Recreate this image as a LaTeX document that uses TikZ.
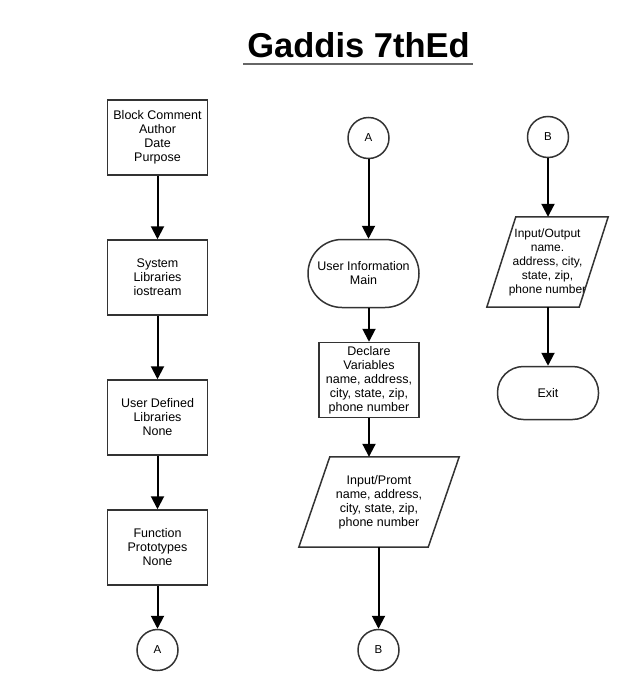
\documentclass[tikz,border=0pt]{standalone}
\usepackage{fontspec}
\setmainfont{Liberation Sans}
\usetikzlibrary{arrows.meta}
\tikzset{
  x=1pt,y=-1pt,
  shapeline/.style={draw=black!80,line width=1.5pt},
  procbox/.style={shapeline,rectangle,minimum width=100pt,minimum height=75pt,inner sep=0pt,
    align=center,font=\fontsize{12.5}{14}\selectfont},
  termbox/.style={shapeline,rectangle,inner sep=0pt,align=center,font=\fontsize{12.5}{14}\selectfont},
  iobox/.style={rectangle,inner sep=0pt,align=center,font=\fontsize{12.5}{14}\selectfont},
  conn/.style={shapeline,circle,minimum size=41pt,inner sep=0pt,font=\fontsize{11.5}{13}\selectfont},
  flow/.style={draw=black,line width=2pt,-{Triangle[length=13pt,width=13pt]}},
}
\begin{document}
\begin{tikzpicture}
\useasboundingbox (0,0) rectangle (618,690);
% title
\node[font=\fontsize{34.5}{38}\selectfont\bfseries,anchor=base] (title) at (358.5,58) {Gaddis 7thEd};
\draw[black!60,line width=2pt] (243,64) -- (473,64);

% left column
\node[procbox] (b1) at (157.5,137.5) {Block Comment\\Author\\Date\\Purpose};
\node[procbox] (b2) at (157.5,277.5) {System\\Libraries\\iostream};
\node[procbox] (b3) at (157.5,417.5) {User Defined\\Libraries\\None};
\node[procbox] (b4) at (157.5,547.5) {Function\\Prototypes\\None};
\node[conn] (a1) at (157.5,650) {A};
\draw[flow] (b1) -- (b2);
\draw[flow] (b2) -- (b3);
\draw[flow] (b3) -- (b4);
\draw[flow] (b4) -- (a1);

% middle column
\node[conn] (a2) at (368.5,138) {A};
\node[termbox,minimum width=111pt,minimum height=68pt,rounded corners=34pt] (ui) at (363.5,273.5) {User Information\\Main};
\node[procbox,minimum width=100pt,minimum height=75pt] (decl) at (369,380) {Declare\\Variables\\name, address,\\city, state, zip,\\phone number};
\node[iobox,minimum width=160pt,minimum height=90pt] (p1) at (379,502) {Input/Promt\\name, address,\\city, state, zip,\\phone number};
\draw[shapeline] ([xshift=31pt]p1.north west) -- (p1.north east) -- ([xshift=-31pt]p1.south east) -- (p1.south west) -- cycle;
\node[conn] (b5) at (378.5,650) {B};
\draw[flow] (a2) -- (a2 |- ui.north);
\draw[flow] (ui.south -| decl.north) -- (decl.north);
\draw[flow] (decl.south) -- (decl.south |- p1.north);
\draw[flow] (b5 |- p1.south) -- (b5);

% right column
\node[conn] (b6) at (548,137) {B};
\node[iobox,minimum width=121pt,minimum height=90pt,font=\fontsize{12}{14}\selectfont] (p2) at (547.5,262) {Input/Output\\name.\\address, city,\\state, zip,\\phone number};
\draw[shapeline] ([xshift=29pt]p2.north west) -- (p2.north east) -- ([xshift=-29pt]p2.south east) -- (p2.south west) -- cycle;
\node[termbox,minimum width=101pt,minimum height=53pt,rounded corners=26pt] (exit) at (548,393) {Exit};
\draw[flow] (b6) -- (b6 |- p2.north);
\draw[flow] (p2.south -| exit.north) -- (exit);
\end{tikzpicture}
\end{document}
